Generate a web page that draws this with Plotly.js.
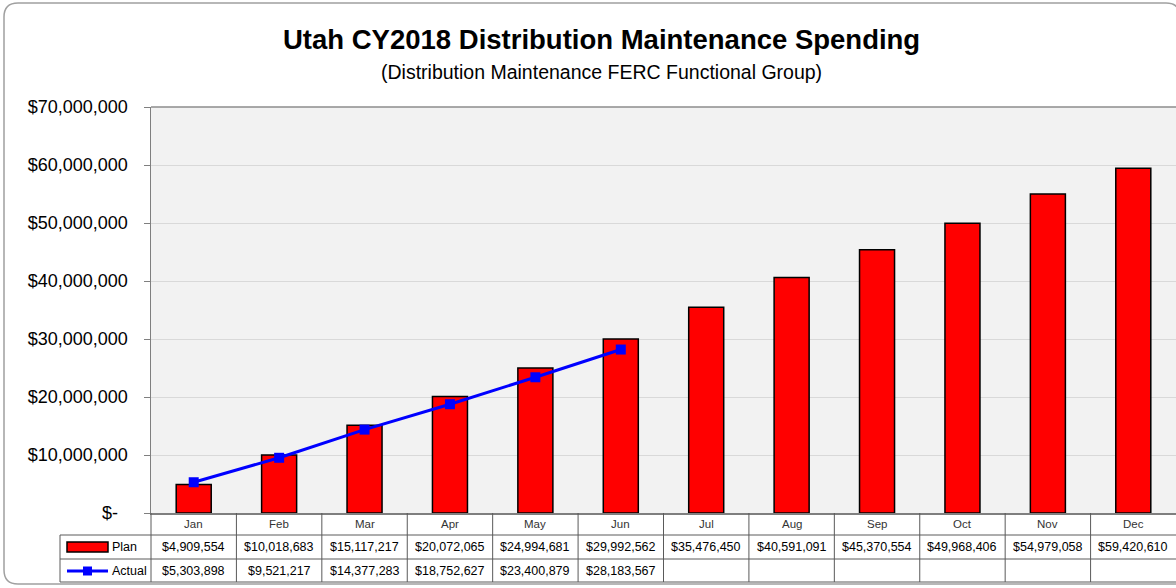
<!DOCTYPE html>
<html>
<head>
<meta charset="utf-8">
<script src="https://cdn.plot.ly/plotly-3.0.1.min.js"></script>
<style>html,body{margin:0;padding:0;background:#fff;}#chart{width:1176px;height:588px;}</style>
</head>
<body>
<div id="chart"></div>
<script>
const months = ["Jan","Feb","Mar","Apr","May","Jun","Jul","Aug","Sep","Oct","Nov","Dec"];
const plan = [4909554,10018683,15117217,20072065,24994681,29992562,35476450,40591091,45370554,49968406,54979058,59420610];
const actual = [5303898,9521217,14377283,18752627,23400879,28183567];
const yTickVals = [0,10000000,20000000,30000000,40000000,50000000,60000000,70000000];
const yTickText = ["$-&nbsp;&nbsp;","$10,000,000","$20,000,000","$30,000,000","$40,000,000","$50,000,000","$60,000,000","$70,000,000"];

const W = 1176, H = 588;
const mL = 151, mR = 0, mT = 107, mB = 75;
const pw = W - mL - mR, ph = H - mT - mB;
const X = px => (px - mL) / pw;
const Y = py => (H - mB - py) / ph;
const fmt = v => "$" + v.toLocaleString("en-US");
const FONT = "Liberation Sans, Arial, sans-serif";
const lineCol = "#5a5a5a";

const traces = [
  {type:"bar", x: months, y: plan, name:"Plan", width:0.41,
   marker:{color:"#ff0000", line:{color:"#000000", width:1.5}}, hoverinfo:"y"},
  {type:"scatter", mode:"lines+markers", x: months.slice(0, actual.length), y: actual, name:"Actual",
   line:{color:"#0000ff", width:3}, marker:{symbol:"square", size:10, color:"#0000ff"}}
];

const shapes = [];
const annotations = [];

// outer rounded border
const r = 14;
shapes.push({type:"path", xref:"paper", yref:"paper", layer:"below",
  path:`M ${X(4)},${Y(3+r)} Q ${X(4)},${Y(3)} ${X(4+r)},${Y(3)} L ${X(1166)},${Y(3)} Q ${X(1180)},${Y(3)} ${X(1180)},${Y(3+r)} L ${X(1180)},${Y(584-r)} L ${X(1180)},${Y(584)} L ${X(4+r)},${Y(584)} Q ${X(4)},${Y(584)} ${X(4)},${Y(584-r)} Z`,
  line:{color:"#a0a0a0", width:1.5}, fillcolor:"rgba(0,0,0,0)"});

// plot top border
shapes.push({type:"line", xref:"paper", yref:"paper", x0:0, x1:1.01, y0:1, y1:1, line:{color:"#8c8c8c", width:1.5}});

// table horizontal lines
[535, 559, 582].forEach(py => {
  shapes.push({type:"line", xref:"paper", yref:"paper", x0:X(60), x1:X(1180), y0:Y(py), y1:Y(py), line:{color:lineCol, width:1}});
});
// left legend column
shapes.push({type:"line", xref:"paper", yref:"paper", x0:X(60), x1:X(60), y0:Y(535), y1:Y(582), line:{color:lineCol, width:1}});
shapes.push({type:"line", xref:"paper", yref:"paper", x0:0, x1:0, y0:0, y1:Y(582), line:{color:lineCol, width:1}});
// column separators
for (let i = 0; i < months.length - 1; i++) {
  shapes.push({type:"line", xref:"x", yref:"paper", x0:i+0.5, x1:i+0.5, y0:0, y1:Y(582), line:{color:lineCol, width:1}});
}
// legend keys
shapes.push({type:"rect", xref:"paper", yref:"paper", x0:X(67), x1:X(108), y0:Y(552), y1:Y(542), fillcolor:"#ff0000", line:{color:"#000", width:1.5}});
shapes.push({type:"line", xref:"paper", yref:"paper", x0:X(67), x1:X(108), y0:Y(571), y1:Y(571), line:{color:"#0000ff", width:3}});
shapes.push({type:"rect", xref:"paper", yref:"paper", x0:X(83), x1:X(92), y0:Y(575.5), y1:Y(566.5), fillcolor:"#0000ff", line:{color:"#0000ff", width:0}});

annotations.push({xref:"paper", yref:"paper", x:X(110), y:Y(547), text:"Plan", showarrow:false, xanchor:"left", yanchor:"middle", font:{family:FONT, size:12.5, color:"#000"}});
annotations.push({xref:"paper", yref:"paper", x:X(110), y:Y(571), text:"Actual", showarrow:false, xanchor:"left", yanchor:"middle", font:{family:FONT, size:12.5, color:"#000"}});

months.forEach((m, i) => {
  annotations.push({xref:"x", yref:"paper", x:i, y:Y(524), text:m, showarrow:false, yanchor:"middle", font:{family:FONT, size:11.5, color:"#333"}});
  annotations.push({xref:"x", yref:"paper", x:i, y:Y(547), text:fmt(plan[i]), showarrow:false, yanchor:"middle", font:{family:FONT, size:12.5, color:"#000"}});
  if (i < actual.length)
    annotations.push({xref:"x", yref:"paper", x:i, y:Y(571), text:fmt(actual[i]), showarrow:false, yanchor:"middle", font:{family:FONT, size:12.5, color:"#000"}});
});

// titles
annotations.push({xref:"paper", yref:"paper", x:X(601), y:Y(39), text:"<b>Utah CY2018 Distribution Maintenance Spending</b>", showarrow:false, xanchor:"center", yanchor:"middle", font:{family:FONT, size:27.5, color:"#000"}});
annotations.push({xref:"paper", yref:"paper", x:X(601), y:Y(72), text:"(Distribution Maintenance FERC Functional Group)", showarrow:false, xanchor:"center", yanchor:"middle", font:{family:FONT, size:19.5, color:"#000"}});

const layout = {
  width: W, height: H,
  margin:{l:mL, r:mR, t:mT, b:mB, pad:0},
  paper_bgcolor:"#ffffff", plot_bgcolor:"#f2f2f2",
  showlegend:false,
  bargap:0.5,
  xaxis:{type:"category", range:[-0.5, 11.5], showticklabels:false, ticks:"", showgrid:false,
         showline:true, linecolor:"#7f7f7f", linewidth:1.5, fixedrange:true},
  yaxis:{range:[0, 70000000], tickvals:yTickVals, ticktext:yTickText, ticks:"outside", ticklen:6,
         tickcolor:"#7f7f7f", showline:true, linecolor:"#7f7f7f", linewidth:1.5,
         gridcolor:"#d9d9d9", gridwidth:1, zeroline:false, ticklabelstandoff:12,
         tickfont:{family:FONT, size:18, color:"#000"}, fixedrange:true},
  shapes: shapes,
  annotations: annotations
};

Plotly.newPlot("chart", traces, layout, {displayModeBar:false, staticPlot:true});
</script>
</body>
</html>
